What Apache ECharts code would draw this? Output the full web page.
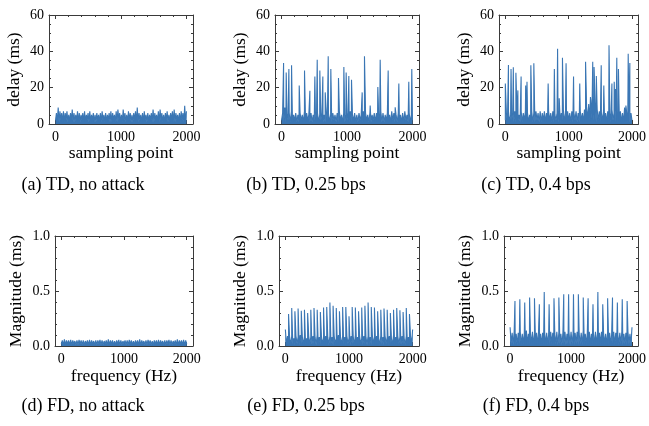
<!DOCTYPE html>
<html><head><meta charset="utf-8">
<script src="https://cdn.jsdelivr.net/npm/echarts@6/dist/echarts.min.js"></script>
<style>html,body{margin:0;padding:0;background:#fff}#c{width:649px;height:426px}</style>
</head><body><div id="c"></div>
<script>
// ---------- data ----------
const xMajorTicks = [0, 1000, 2000];
const xMinorTicks = [200, 400, 600, 800, 1200, 1400, 1600, 1800];
const captions = ['(a) TD, no attack', '(b) TD, 0.25 bps', '(c) TD, 0.4 bps',
                  '(d) FD, no attack', '(e) FD, 0.25 bps', '(f) FD, 0.4 bps'];
const tdXName = 'sampling point';
const tdYName = 'delay (ms)';
const fdXName = 'frequency (Hz)';
const fdYName = 'Magnitude (ms)';

// (a) TD, no attack: delay samples (ms), evenly spread over sampling points 0..2000
const aNoise = [2,6,1,9,1,7,2,6,1,7,1,6,2,7,1,5,1,6,2,8,1,6,1,5,2,7,1,6,1,5,2,6,1,7,1,5,2,6,1,7,1,5,2,6,1,5,1,6,2,5,1,6,1,7,2,5,1,6,1,5,2,6,1,7,1,6,2,5,1,7,1,8,2,6,1,5,1,8,2,6,1,5,1,7,2,6,1,5,1,6,2,7,1,9,1,6,2,5,1,6,1,7,2,5,1,6,1,5,2,6,1,8,1,6,2,5,1,7,1,8,2,6,1,5,1,6,2,7,1,5,1,6,2,7,1,8,1,6,2,5,1,6,1,7,2,6,1,10,1,7];
// (b) TD, 0.25 bps
const bNoise = [2,6,1,9,1,5,2,6,1,7,1,5,2,6,1,5,1,6,2,5,1,7,1,6,2,5,1,6,1,5,2,7,1,6,1,5,2,6,1,5,1,7,2,6,1,5,1,6,2,5,1,6,1,7,2,5,1,6,1,5,2,6,1,7,1,5,2,6,1,5,1,6,2,5,1,7,1,6,2,5,1,6,1,5,2,6,1,6,1,5,2,7,1,6,1,5,2,6,1,5,1,7,2,6,1,5,1,6,2,5,1,6,1,7,2,5,1,6,1,5,2];
const bSpikeX = [31,71,112,153,270,351,433,509,545,585,631,667,713,753,870,952,987,1028,1069,1232,1267,1354,1471,1507,1629,1736,1792,1944,1990];
const bSpikeV = [33.6,28.4,30.3,32.3,21.2,29.4,18.3,26.2,35.3,29.4,26.2,17.4,37.3,30.3,25.3,31.4,28.4,26.4,24.4,17.4,37.3,10.2,20.3,35.4,29.4,9.2,22.3,23.3,30.3];
// (c) TD, 0.4 bps
const cNoise = [2,6,1,7,1,5,2,6,1,7,1,6,2,5,1,7,1,6,2,7,1,6,1,5,2,7,1,6,1,7,2,6,1,7,1,6,2,7,1,6,1,7,2,6,1,7,1,5,2,6,1,7,1,6,2,8,1,6,1,7,2,6,1,7,1,6,2,7,1,6,1,7,2,6,1,8,2,9,3,11,2,13,3,10,2,12,1,8,2,7,1,6,2,7,1,6,1,7,2,6,1,8,2,6,1,7,1,6,2,7,1,6,1,9,2,6,1,7,1,6,2];
const cSpikeX = [0,49,90,126,167,198,249,321,342,403,450,676,774,825,851,902,959,1077,1175,1267,1344,1380,1401,1437,1514,1555,1637,1683,1719,1740,1760,1786,1904,1940,1966];
const cSpikeV = [22.3,32.5,30.3,31.2,28.2,18.5,26.2,21.2,23.3,32.3,33.4,22.3,30.3,41.4,14.2,36.4,33.4,26.2,22.3,34.3,14.8,34.3,31.4,26.4,32.3,21.2,43.4,22.3,23.3,19.2,36.4,30.3,10.2,38.6,33.6];
// (d) FD, no attack: magnitude (ms) over frequency 0..2000 Hz
const dNoise = [.02,.05,.01,.06,.01,.05,.02,.05,.01,.055,.01,.05,.02,.045,.01,.05,.01,.055,.02,.05,.01,.05,.01,.045,.02,.05,.01,.055,.01,.05,.02,.045,.01,.05,.01,.05,.02,.055,.01,.05,.01,.045,.02,.05,.01,.06,.01,.05,.02,.05,.01,.045,.01,.05,.02,.055,.01,.05,.01,.045,.02,.05,.01,.05,.01,.055,.02,.05,.01,.045,.01,.05,.02,.05,.01,.06,.01,.05,.02,.045,.01,.05,.01,.055,.02,.05,.01,.045,.01,.05,.02,.05,.01,.055,.01,.05,.02,.045,.01,.05,.01,.05,.02,.055,.01,.05,.01,.045,.02,.05,.01,.06,.01,.05,.02,.05,.01,.055,.01,.05,.02];
// (e) FD, 0.25 bps
const eNoise = [.15,.01,.09,.02,.08,.01,.09,.02,.07,.01,.09,.02,.08,.01,.1,.02,.08,.01,.09,.02,.07,.01,.09,.02,.08,.01,.09,.02,.08,.01,.1,.02,.08,.01,.09,.02,.07,.01,.09,.02,.08,.01,.09,.02,.08,.01,.09,.02,.07,.01,.1,.02,.08,.01,.09,.02,.08,.01,.09,.02,.07,.01,.09,.02,.08,.01,.1,.02,.08,.01,.09,.02,.07,.01,.09,.02,.08,.01,.09,.02,.08,.01,.1,.02,.08,.01,.09,.02,.07,.01,.09,.02,.08,.01,.09,.02,.08,.01,.09,.02,.07,.01,.1,.02,.08,.01,.09,.02,.08,.01,.09,.02,.07,.01,.09,.02,.08,.01,.09,.02,.15];
const eFreq = [50,100,150,200,250,300,350,400,450,500,550,600,650,700,750,800,850,900,950,1000,1050,1100,1150,1200,1250,1300,1350,1400,1450,1500,1550,1600,1650,1700,1750,1800,1850,1900,1950];
const eMag = [.29,.345,.315,.34,.32,.33,.30,.33,.345,.33,.31,.35,.355,.395,.365,.345,.315,.355,.355,.27,.355,.35,.315,.35,.365,.395,.355,.35,.315,.33,.34,.33,.30,.33,.345,.325,.31,.345,.29];
// (f) FD, 0.4 bps
const fNoise = [.17,.02,.12,.01,.13,.02,.11,.01,.12,.02,.13,.01,.11,.02,.12,.01,.14,.02,.11,.01,.12,.02,.13,.01,.11,.02,.12,.01,.13,.02,.11,.01,.12,.02,.13,.01,.12,.02,.11,.01,.13,.02,.12,.01,.11,.02,.13,.01,.12,.02,.11,.01,.12,.02,.13,.01,.11,.02,.12,.01,.13,.02,.11,.01,.12,.02,.13,.01,.11,.02,.12,.01,.14,.02,.11,.01,.12,.02,.13,.01,.11,.02,.12,.01,.13,.02,.11,.01,.12,.02,.13,.01,.12,.02,.11,.01,.13,.02,.12,.01,.11,.02,.13,.01,.12,.02,.11,.01,.12,.02,.13,.01,.11,.02,.12,.01,.13,.02,.11,.01,.17];
const fFreq = [80,160,240,320,400,480,560,640,720,800,880,960,1040,1120,1200,1280,1360,1440,1520,1600,1680,1760,1840,1920];
const fMag = [.41,.425,.395,.44,.435,.38,.49,.38,.435,.44,.47,.47,.47,.47,.44,.435,.38,.49,.38,.435,.44,.395,.425,.41];

// ---------- layout / style ----------
const LINE = '#3a76b4';
const AX = '#3a3a3a';
const FONT = "'Liberation Serif', serif";
const panels = [
  {noise:aNoise, sx:[], sv:[], left:49, top:15, w:144, h:109, td:true},
  {noise:bNoise, sx:bSpikeX, sv:bSpikeV, left:275, top:15, w:144, h:109, td:true},
  {noise:cNoise, sx:cSpikeX, sv:cSpikeV, left:499, top:15, w:144, h:109, td:true},
  {noise:dNoise, sx:[], sv:[], left:55, top:236, w:138, h:110, td:false},
  {noise:eNoise, sx:eFreq, sv:eMag, left:279, top:236, w:140, h:110, td:false},
  {noise:fNoise, sx:fFreq, sv:fMag, left:504, top:236, w:139, h:110, td:false}
];
const capPos = [[83,185],[306,185],[536,185],[83,406],[306,406],[536,406]];

function buildLine(noise, sx, sv) {
  const n = noise.length;
  const pts = noise.map((v, i) => [i * 2000 / (n - 1), v]);
  sx.forEach((x, j) => pts.push([x, sv[j]]));
  pts.sort((a, b) => a[0] - b[0]);
  return pts;
}

const grid = [], xAxis = [], yAxis = [], series = [], graphic = [];
panels.forEach((p, gi) => {
  grid.push({left:p.left, top:p.top, width:p.w, height:p.h, containLabel:false});
  const base = {gridIndex:gi, type:'value', min:-100, max:2100, splitLine:{show:false}};
  const firstX = xAxis.length;
  xAxis.push(Object.assign({}, base, {
    position:'bottom', name: p.td ? tdXName : fdXName, nameLocation:'middle', nameGap: p.td ? 20 : 21,
    nameTextStyle:{fontFamily:FONT, fontSize:17.5, color:'#000'},
    axisLine:{show:true, onZero:false, lineStyle:{color:AX, width:1}},
    axisTick:{show:true, inside:true, length:4, customValues:xMajorTicks, lineStyle:{color:AX, width:1}},
    axisLabel:{show:true, customValues:xMajorTicks, margin:6, fontFamily:FONT, fontSize:14, color:'#000',
      formatter: v => String(v)}
  }));
  xAxis.push(Object.assign({}, base, {
    position:'bottom', axisLine:{show:false, onZero:false},
    axisTick:{show:true, inside:true, length:2, customValues:xMinorTicks, lineStyle:{color:AX, width:1}},
    axisLabel:{show:false}
  }));
  xAxis.push(Object.assign({}, base, {
    position:'top', axisLine:{show:true, onZero:false, lineStyle:{color:AX, width:1}},
    axisTick:{show:true, inside:true, length:4, customValues:xMajorTicks, lineStyle:{color:AX, width:1}},
    axisLabel:{show:false}
  }));
  xAxis.push(Object.assign({}, base, {
    position:'top', axisLine:{show:false, onZero:false},
    axisTick:{show:true, inside:true, length:2, customValues:xMinorTicks, lineStyle:{color:AX, width:1}},
    axisLabel:{show:false}
  }));
  const ybase = p.td
    ? {min:0, max:60, interval:20, minorTick:{show:true, splitNumber:4, length:2, lineStyle:{color:AX, width:1}}}
    : {min:0, max:1, interval:0.5, minorTick:{show:true, splitNumber:5, length:2, lineStyle:{color:AX, width:1}}};
  const firstY = yAxis.length;
  yAxis.push(Object.assign({gridIndex:gi, type:'value', position:'left', splitLine:{show:false}, minorSplitLine:{show:false},
    name: p.td ? tdYName : fdYName, nameLocation:'middle', nameGap: p.td ? 26 : 30,
    nameTextStyle:{fontFamily:FONT, fontSize:17.5, color:'#000'},
    axisLine:{show:true, onZero:false, lineStyle:{color:AX, width:1}},
    axisTick:{show:true, inside:true, length:4, lineStyle:{color:AX, width:1}},
    axisLabel:{show:true, margin:5, fontFamily:FONT, fontSize:14, color:'#000',
      formatter: p.td ? (v => String(v)) : (v => v.toFixed(1))}
  }, ybase));
  yAxis.push(Object.assign({gridIndex:gi, type:'value', position:'right', splitLine:{show:false}, minorSplitLine:{show:false},
    axisLine:{show:true, onZero:false, lineStyle:{color:AX, width:1}},
    axisTick:{show:true, inside:true, length:4, lineStyle:{color:AX, width:1}},
    axisLabel:{show:false}
  }, ybase));
  series.push({
    type:'line', xAxisIndex:firstX, yAxisIndex:firstY, data: buildLine(p.noise, p.sx, p.sv),
    showSymbol:false, symbol:'none', lineStyle:{color:LINE, width:1.1}, itemStyle:{color:LINE},
    areaStyle:{color:LINE, opacity:1, origin:'start'},
    animation:false, silent:true, clip:true
  });
  graphic.push({type:'text', x:capPos[gi][0], y:capPos[gi][1],
    style:{text:captions[gi], align:'center', verticalAlign:'middle', font:"18px 'Liberation Serif'", fill:'#000'}});
});

const chart = echarts.init(document.getElementById('c'), null, {renderer:'canvas'});
chart.setOption({animation:false, backgroundColor:'#fff', textStyle:{fontFamily:FONT}, grid, xAxis, yAxis, series, graphic});
</script>
</body></html>
